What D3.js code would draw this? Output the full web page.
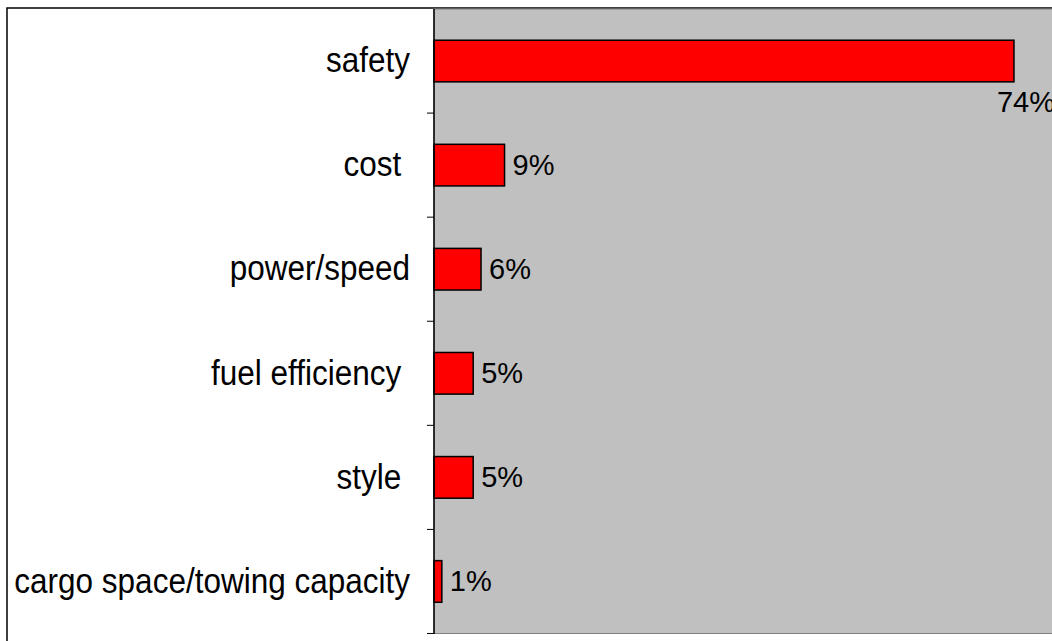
<!DOCTYPE html>
<html>
<head>
<meta charset="utf-8">
<script src="https://cdn.jsdelivr.net/npm/d3@7"></script>
<style>
  html, body { margin: 0; padding: 0; background: #fff; overflow: hidden; }
  svg { display: block; }
  text { font-family: "Liberation Sans", Arial, sans-serif; fill: #000; }
</style>
</head>
<body>
<svg id="chart" width="1052" height="641"></svg>
<script>
const categories = ["safety", "cost ", "power/speed", "fuel efficiency ", "style ", "cargo space/towing capacity"];
const values = [74, 9, 6, 5, 5, 1];
const valueLabels = ["74%", "9%", "6%", "5%", "5%", "1%"];
const xDomain = [0, 80];

const svg = d3.select("#chart");
const plot = { left: 434, top: 9, right: 1061, bottom: 633.5 };

// outer chart border (extends beyond the visible window)
svg.append("rect")
  .attr("x", 7).attr("y", 8)
  .attr("width", 1100).attr("height", 700)
  .attr("fill", "#fff").attr("stroke", "#000").attr("stroke-width", 1.5);

const x = d3.scaleLinear().domain(xDomain).range([plot.left, plot.right]);
const y = d3.scaleBand().domain(categories)
  .range([plot.top, plot.bottom])
  .paddingInner(0.6).paddingOuter(0.3);
const step = y.step();

// plot area
svg.append("rect")
  .attr("x", plot.left).attr("y", plot.top)
  .attr("width", 1100).attr("height", plot.bottom - plot.top)
  .attr("fill", "#c0c0c0").attr("stroke", "#808080").attr("stroke-width", 1);

// bars
svg.append("g").selectAll("rect").data(categories).join("rect")
  .attr("x", x(0))
  .attr("y", d => y(d))
  .attr("width", (d, i) => x(values[i]) - x(0))
  .attr("height", y.bandwidth())
  .attr("fill", "#ff0000")
  .attr("stroke", "#000").attr("stroke-width", 1.5);

// category axis line
svg.append("line")
  .attr("x1", plot.left).attr("x2", plot.left)
  .attr("y1", plot.top).attr("y2", plot.bottom + 0.5)
  .attr("stroke", "#000").attr("stroke-width", 1.5);

// tick marks between categories
svg.append("g").selectAll("line").data(categories).join("line")
  .attr("x1", plot.left - 7).attr("x2", plot.left)
  .attr("y1", d => y(d) + y.bandwidth() + step * y.paddingInner() / 2)
  .attr("y2", d => y(d) + y.bandwidth() + step * y.paddingInner() / 2)
  .attr("stroke", "#000").attr("stroke-width", 1);

// category labels (slightly tall glyphs, as in the reference)
svg.append("g").selectAll("text").data(categories).join("text")
  .attr("transform", d => `translate(${plot.left - 24},${y(d) + y.bandwidth() / 2}) scale(1,1.1)`)
  .attr("x", 0)
  .attr("y", 10.2)
  .attr("text-anchor", "end")
  .style("white-space", "pre")
  .attr("font-size", 31.5)
  .text(d => d);

// value labels
svg.append("g").selectAll("text").data(categories).join("text")
  .each(function(d, i) {
    const t = d3.select(this)
      .attr("font-size", 29)
      .attr("dominant-baseline", "central")
      .text(valueLabels[i]);
    const xe = x(values[i]) + 8;
    const w = this.getComputedTextLength();
    if (xe + w > plot.right - 6) {
      t.attr("x", plot.right - 6).attr("text-anchor", "end")
       .attr("y", y(d) + y.bandwidth() / 2 + y.bandwidth() - 1);
    } else {
      t.attr("x", xe).attr("text-anchor", "start")
       .attr("y", y(d) + y.bandwidth() / 2);
    }
  });
</script>
</body>
</html>
